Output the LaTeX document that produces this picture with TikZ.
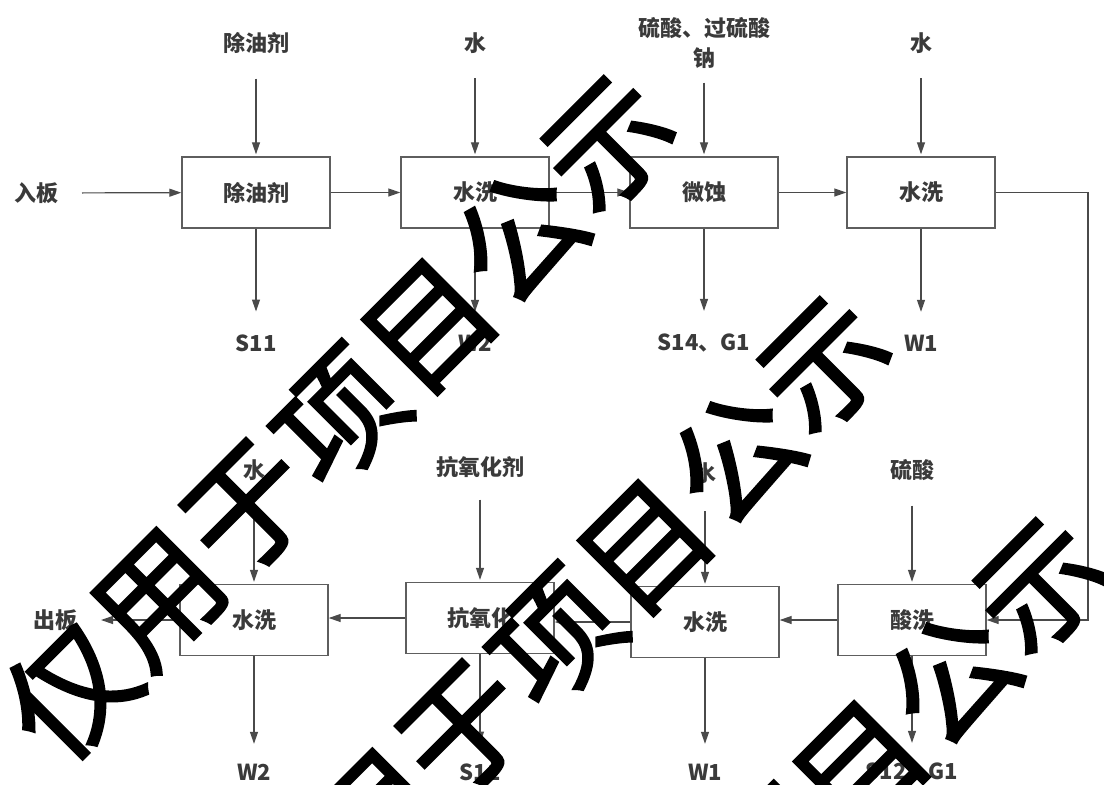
\documentclass[tikz,border=0pt]{standalone}
\usepackage{fontspec}
\setmainfont{Noto Sans CJK SC}
\newfontfamily\wmfont{Noto Sans CJK SC}[FakeBold=2]
\usetikzlibrary{arrows.meta}
\definecolor{ink}{HTML}{3A3A3A}
\definecolor{edge}{HTML}{4A4A4A}
\definecolor{frame}{HTML}{5E5E5E}
\begin{document}
\begin{tikzpicture}[x=1pt,y=-1pt,
  proc/.style={draw=frame, line width=1.4pt, minimum width=148pt, minimum height=71pt, inner sep=0pt, text=ink, font=\fontsize{22}{26}\selectfont\bfseries},
  tag/.style={text=ink, inner sep=0pt, font=\fontsize{22}{30}\selectfont\bfseries, align=center},
  flow/.style={draw=edge, line width=1.2pt, -{Triangle[length=12pt,width=8pt]}},
  wm/.style={rotate=45, inner sep=0pt, font=\fontsize{126}{126}\selectfont\wmfont, text=black}]
\useasboundingbox (0,0) rectangle (1104,785);
\fill[white] (0,0) rectangle (1104,785);

% top row
\node[proc] (b1) at (256,192.5) {除油剂};
\node[proc] (b2) at (475,192.5) {水洗};
\node[proc] (b3) at (704,192.5) {微蚀};
\node[proc] (b4) at (921,192.5) {水洗};
% bottom row
\node[proc] (c1) at (254,620) {水洗};
\node[proc] (c2) at (480,618) {抗氧化};
\node[proc] (c3) at (705,622) {水洗};
\node[proc] (c4) at (912,620) {酸洗};

% top inputs
\node[tag, outer ysep=25pt] (i1) at (256,43) {除油剂};
\node[tag, outer ysep=25pt] (i2) at (475,43) {水};
\node[tag, outer ysep=14pt] (i3) at (704,43) {硫酸、过硫酸\\钠};
\node[tag, outer ysep=25pt] (i4) at (921,43) {水};
% top outputs
\node[tag, outer ysep=21pt] (o1) at (256,343) {S11};
\node[tag, outer ysep=21pt] (o2) at (475,343) {W2};
\node[tag, outer ysep=21pt] (o3) at (704,343) {S14、G1};
\node[tag, outer ysep=21pt] (o4) at (921,343) {W1};
% side labels
\node[tag, outer xsep=23pt] (in) at (37,193) {入板};
\node[tag, outer xsep=23pt] (out) at (56,620) {出板};
% bottom inputs
\node[tag, outer ysep=25pt] (j1) at (254,470) {水};
\node[tag, outer ysep=22pt] (j2) at (480,467) {抗氧化剂};
\node[tag, outer ysep=28pt] (j3) at (705,473) {水};
\node[tag, outer ysep=25pt] (j4) at (912,470) {硫酸};
% bottom outputs
\node[tag, outer ysep=18pt] (p1) at (254,772) {W2};
\node[tag, outer ysep=18pt] (p2) at (480,772) {S11};
\node[tag, outer ysep=18pt] (p3) at (705,772) {W1};
\node[tag, outer ysep=18pt] (p4) at (912,772) {S12、G1};

\coordinate (r) at (1088,192.5);

% connectors
\draw[flow] (in) -- (b1);
\draw[flow] (b1) -- (b2);
\draw[flow] (b2) -- (b3);
\draw[flow] (b3) -- (b4);
\draw[flow] (b4.east) -- (r) |- (c4.east);
\draw[flow] (c4.west) -- (c4.west -| c3.east);
\draw[flow] (c3.west) -- (c3.west -| c2.east);
\draw[flow] (c2.west) -- (c2.west -| c1.east);
\draw[flow] (c1) -- (out);
\foreach \a/\b in {i1/b1,i2/b2,i3/b3,i4/b4,b1/o1,b2/o2,b3/o3,b4/o4,j1/c1,j2/c2,j3/c3,j4/c4,c1/p1,c2/p2,c3/p3,c4/p4}
  \draw[flow, shorten >=2pt] (\a) -- (\b);

% watermark
\begin{scope}
\clip (0,0) rectangle (1104,785);
\foreach \bx/\by in {340/418, 556/639, 772/860} {
  \foreach \ch [count=\k from -3] in {仅,用,于,项,目,公,示} {
    \node[wm] (w\bx\k) at ({\bx+90*\k},{\by-91*\k}) {\ch};
  }
}
\end{scope}
\end{tikzpicture}
\end{document}
